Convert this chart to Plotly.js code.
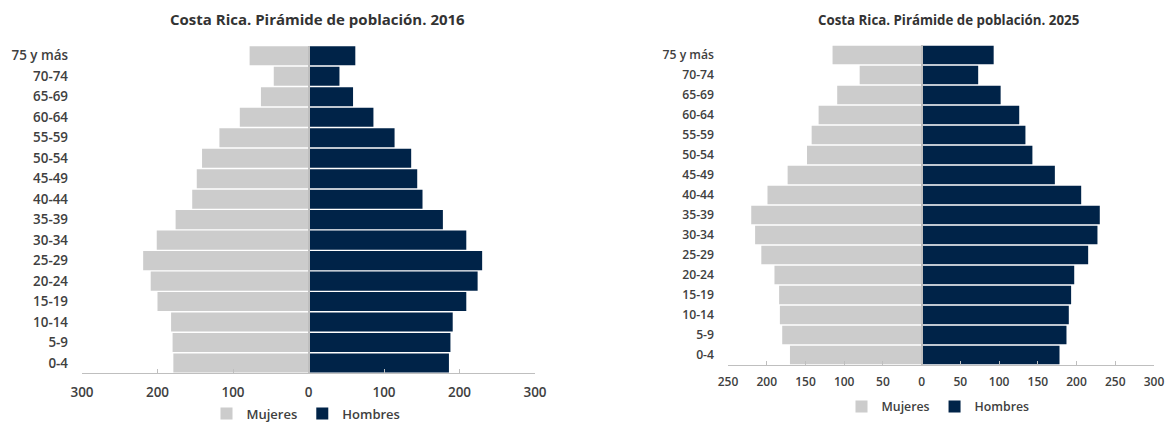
<!DOCTYPE html>
<html>
<head>
<meta charset="utf-8">
<script src="https://cdn.plot.ly/plotly-3.0.1.min.js"></script>
<style>html,body{margin:0;padding:0;background:#fff;}#chart{width:1167px;height:422px;}</style>
</head>
<body>
<div id="chart"></div>
<script>
// Age groups, bottom to top
var ageGroups = ["0-4","5-9","10-14","15-19","20-24","25-29","30-34","35-39","40-44","45-49","50-54","55-59","60-64","65-69","70-74","75 y más"];

// 2016 (thousands)
var mujeres2016 = [179, 180, 182, 200, 209, 219, 201, 176, 154, 148, 141, 118, 91, 63, 46, 78];
var hombres2016 = [186, 188, 191, 209, 224, 230, 209, 178, 151, 144, 136, 114, 86, 59, 41, 62];

// 2025 (thousands)
var mujeres2025 = [170, 180, 183, 184, 190, 207, 215, 220, 199, 173, 148, 142, 133, 109, 80, 115];
var hombres2025 = [178, 187, 190, 193, 197, 215, 227, 230, 206, 172, 143, 134, 126, 102, 73, 93];

// Tick labels
var tickVals2016 = [-300, -200, -100, 0, 100, 200, 300];
var tickText2016 = ["300", "200", "100", "0", "100", "200", "300"];
var tickVals2025 = [-250, -200, -150, -100, -50, 0, 50, 100, 150, 200, 250, 300];
var tickText2025 = ["250", "200", "150", "100", "50", "0", "50", "100", "150", "200", "250", "300"];

var titles = ["Costa Rica. Pirámide de población. 2016", "Costa Rica. Pirámide de población. 2025"];
var seriesNames = ["Mujeres", "Hombres"];

var colWomen = "#cccccc";
var colMen = "#002348";
var txt = "#404040";
var fontFam = "Open Sans, Liberation Sans, Arial, sans-serif";

function neg(a){ return a.map(function(v){ return -v; }); }

var traces = [
  {type:"bar", orientation:"h", name:seriesNames[0], y:ageGroups, x:neg(mujeres2016),
   customdata:mujeres2016, hovertemplate:"%{y}: %{customdata}<extra>Mujeres</extra>",
   marker:{color:colWomen}, xaxis:"x", yaxis:"y", legend:"legend"},
  {type:"bar", orientation:"h", name:seriesNames[1], y:ageGroups, x:hombres2016,
   marker:{color:colMen}, xaxis:"x", yaxis:"y", legend:"legend"},
  {type:"bar", orientation:"h", name:seriesNames[0], y:ageGroups, x:neg(mujeres2025),
   customdata:mujeres2025, hovertemplate:"%{y}: %{customdata}<extra>Mujeres</extra>",
   marker:{color:colWomen}, xaxis:"x2", yaxis:"y2", legend:"legend2"},
  {type:"bar", orientation:"h", name:seriesNames[1], y:ageGroups, x:hombres2025,
   marker:{color:colMen}, xaxis:"x2", yaxis:"y2", legend:"legend2"}
];

var xCommon = {
  showgrid:false, zeroline:true, zerolinecolor:"#bfbfbf", zerolinewidth:1.5, zerolinelayer:"above traces",
  showline:true, linecolor:"#bfbfbf", linewidth:1.3,
  ticks:"inside", ticklen:4, tickcolor:"#bfbfbf", tickwidth:1.3,
  tickmode:"array", fixedrange:true, automargin:false, ticklabeloverflow:"allow"
};
var yCommon = {
  type:"category", showgrid:false, zeroline:false, showline:false, ticks:"",
  ticklabelstandoff:13, fixedrange:true, automargin:false
};

var layout = {
  width:1167, height:422,
  margin:{l:0, r:0, t:0, b:0, autoexpand:false},
  paper_bgcolor:"#ffffff", plot_bgcolor:"#ffffff",
  barmode:"overlay", bargap:0.07,
  font:{family:fontFam, color:txt, size:12},
  showlegend:true,
  xaxis:Object.assign({}, xCommon, {domain:[82/1167, 535/1167], range:[-300,300],
    tickvals:tickVals2016, ticktext:tickText2016, anchor:"y",
    ticklabelstandoff:6, tickfont:{size:13.5, color:txt, weight:600}}),
  yaxis:Object.assign({}, yCommon, {domain:[(422-373.3)/422, (422-45.5)/422], anchor:"x",
    range:[-0.5, 15.5], tickfont:{size:13.4, color:txt, weight:600}}),
  xaxis2:Object.assign({}, xCommon, {domain:[728/1167, 1154/1167], range:[-250,300],
    tickvals:tickVals2025, ticktext:tickText2025, anchor:"y2",
    ticklabelstandoff:5, tickfont:{size:12, color:txt, weight:600}}),
  yaxis2:Object.assign({}, yCommon, {domain:[(422-365)/422, (422-45)/422], anchor:"x2",
    range:[-0.5, 15.5], tickfont:{size:12.2, color:txt, weight:600}}),
  legend:{orientation:"h", x:306/1167, xanchor:"center", y:(422-413.5)/422, yanchor:"middle",
    font:{size:13, color:txt, weight:600}, itemwidth:30,
    traceorder:"normal", bgcolor:"rgba(0,0,0,0)"},
  legend2:{orientation:"h", x:938/1167, xanchor:"center", y:(422-406.5)/422, yanchor:"middle",
    font:{size:12.3, color:txt, weight:600}, itemwidth:30,
    traceorder:"normal", bgcolor:"rgba(0,0,0,0)"},
  annotations:[
    {text:"<b>"+titles[0]+"</b>", xref:"paper", yref:"paper", x:317/1167, y:(422-19)/422,
     xanchor:"center", yanchor:"middle", showarrow:false, font:{size:15, color:"#333333"}},
    {text:"<b>"+titles[1]+"</b>", xref:"paper", yref:"paper", x:948/1167, y:(422-20)/422,
     xanchor:"center", yanchor:"middle", showarrow:false, font:{size:13.3, color:"#333333"}}
  ]
};

Plotly.newPlot("chart", traces, layout, {displayModeBar:false, staticPlot:false, responsive:false});
</script>
</body>
</html>
